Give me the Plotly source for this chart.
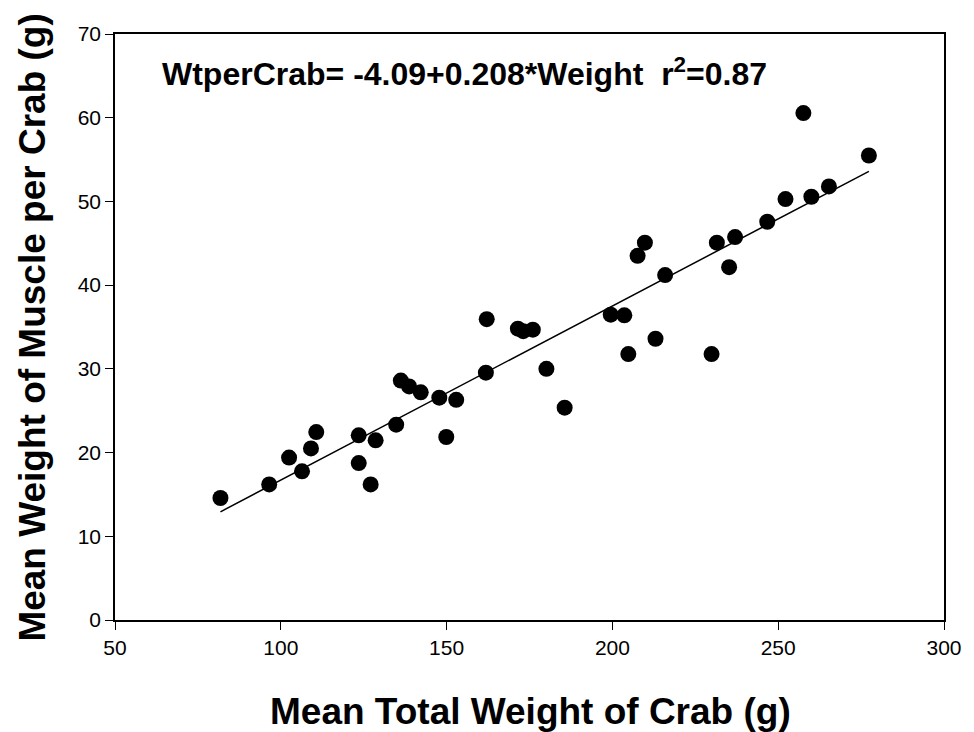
import plotly.graph_objects as go

# Data
total_weight = [81.8, 96.5, 102.5, 110.7, 109.1, 106.4, 123.5, 128.6, 123.5, 127.1,
                134.8, 136.2, 138.7, 142.2, 147.8, 152.9, 149.9, 161.85,
                162.1, 171.5, 173.1, 176.0, 180.1, 185.6, 199.5, 203.6, 204.8,
                213.0, 207.6, 209.8, 215.9, 229.9, 231.5,
                235.2, 237.0, 246.7, 252.2, 257.6, 260.0, 265.3, 277.35]
muscle_weight = [14.57, 16.2, 19.4, 22.45, 20.5, 17.76, 22.06, 21.46, 18.75, 16.2,
                 23.33, 28.6, 27.9, 27.2, 26.56, 26.3, 21.86, 29.54,
                 35.94, 34.8, 34.5, 34.68, 30.0, 25.36, 36.47, 36.39, 31.77,
                 33.6, 43.5, 45.07, 41.2, 31.77, 45.07,
                 42.15, 45.74, 47.57, 50.28, 60.55, 50.56, 51.79, 55.49]

intercept = -4.09
slope = 0.208
r2 = 0.87

x_ticks = [50, 100, 150, 200, 250, 300]
y_ticks = [0, 10, 20, 30, 40, 50, 60, 70]

FONT = "Arial, 'Liberation Sans', sans-serif"

# page body has an 8px margin; figure is sized/offset to compensate
OFF = 8
W, H = 974 - OFF, 732 - OFF
L, T = 115 - OFF, 34 - OFF
R = W - (950 - OFF)
B = H - (620 - OFF)
PW, PH = W - L - R, H - T - B


def px_x(x):
    return (x - OFF - L) / PW


def px_y(y):
    return 1 - (y - OFF - T) / PH


fig = go.Figure()

fig.add_trace(go.Scatter(
    x=total_weight, y=muscle_weight, mode="markers",
    marker=dict(color="black", size=16, line=dict(width=0)),
    showlegend=False, hoverinfo="x+y",
))

line_x = [min(total_weight), max(total_weight)]
line_y = [intercept + slope * v for v in line_x]
fig.add_trace(go.Scatter(
    x=line_x, y=line_y, mode="lines",
    line=dict(color="black", width=1.5),
    showlegend=False, hoverinfo="skip",
))

fig.update_layout(
    width=W, height=H,
    margin=dict(l=L, r=R, t=T, b=B),
    paper_bgcolor="white", plot_bgcolor="white",
    font=dict(family=FONT, color="black"),
    xaxis=dict(
        range=[50, 300], tickvals=x_ticks, ticktext=[str(v) for v in x_ticks],
        ticks="outside", ticklen=8, tickwidth=1, tickcolor="black",
        showline=True, linecolor="black", linewidth=1.5, mirror=True,
        showgrid=False, zeroline=False,
        tickfont=dict(family=FONT, size=21, color="black"),
    ),
    yaxis=dict(
        range=[0, 70], tickvals=y_ticks, ticktext=[str(v) for v in y_ticks],
        ticks="outside", ticklen=8, tickwidth=1, tickcolor="black",
        showline=True, linecolor="black", linewidth=1.5, mirror=True,
        showgrid=False, zeroline=False,
        tickfont=dict(family=FONT, size=21, color="black"),
    ),
    annotations=[
        dict(text="<b>WtperCrab= %.2f+%.3f*Weight  r<sup>2</sup>=%.2f</b>" % (intercept, slope, r2),
             xref="paper", yref="paper", x=px_x(160), y=px_y(72),
             xanchor="left", yanchor="middle", showarrow=False,
             font=dict(family=FONT, size=32, color="black")),
        dict(text="<b>Mean Total Weight of Crab (g)</b>",
             xref="paper", yref="paper", x=px_x(534), y=px_y(712),
             xanchor="center", yanchor="middle", showarrow=False,
             font=dict(family=FONT, size=37, color="black")),
        dict(text="<b>Mean Weight of Muscle per Crab (g)</b>",
             xref="paper", yref="paper", x=px_x(31), y=px_y(328),
             xanchor="center", yanchor="middle", showarrow=False, textangle=-90,
             font=dict(family=FONT, size=37, color="black")),
    ],
)

fig.write_html("out.html")
